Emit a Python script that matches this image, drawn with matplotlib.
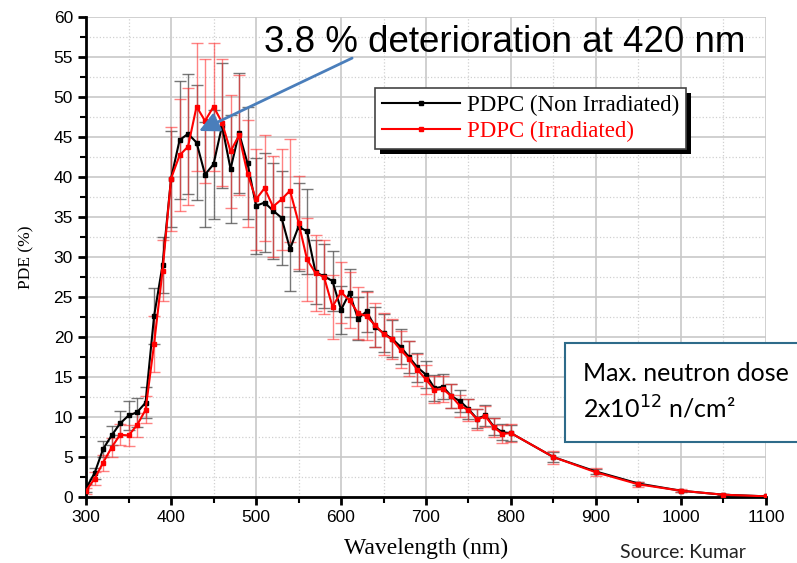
import numpy as np
import matplotlib
matplotlib.use("Agg")
import matplotlib.pyplot as plt
from matplotlib.ticker import MultipleLocator
from matplotlib.patches import Rectangle
from matplotlib.transforms import IdentityTransform

# wavelength (nm)
wavelength = [300, 310, 320, 330, 340, 350, 360, 370, 380, 390,
              400, 410, 420, 430, 440, 450, 460, 470, 480, 490,
              500, 510, 520, 530, 540, 550, 560, 570, 580, 590,
              600, 610, 620, 630, 640, 650, 660, 670, 680, 690,
              700, 710, 720, 730, 740, 750, 760, 770, 780, 790,
              800, 850, 900, 950, 1000, 1050, 1100]

# PDE (%) non irradiated
pde_non = [1.1, 3.0, 6.0, 7.7, 9.2, 10.2, 10.6, 11.8, 22.6, 29.0,
           39.8, 44.6, 45.4, 44.3, 40.3, 41.6, 46.4, 41.0, 45.5, 41.7,
           36.4, 36.8, 35.8, 34.9, 31.0, 33.8, 33.2, 28.1, 27.6, 27.0,
           23.4, 25.5, 22.3, 23.2, 21.3, 20.5, 19.8, 18.8, 17.5, 16.2,
           15.3, 13.6, 13.8, 12.6, 12.0, 11.0, 9.8, 10.2, 8.8, 8.1,
           8.0, 5.0, 3.2, 1.7, 0.8, 0.3, 0.1]
err_non = [0.5, 0.7, 1.0, 1.2, 1.5, 1.8, 1.8, 1.9, 3.5, 3.5,
           6.0, 7.4, 7.5, 7.2, 6.6, 6.8, 7.8, 6.7, 7.5, 7.0,
           6.0, 6.2, 6.0, 5.9, 5.3, 5.5, 5.3, 4.0, 4.0, 3.8,
           3.0, 3.0, 2.7, 2.6, 2.5, 2.4, 2.3, 2.2, 2.0, 1.8,
           1.7, 1.6, 1.6, 1.5, 1.4, 1.3, 1.2, 1.3, 1.1, 1.0,
           1.0, 0.6, 0.3, 0.2, 0.1, 0.05, 0.05]

# PDE (%) irradiated
pde_irr = [0.8, 2.3, 4.3, 6.2, 7.8, 7.7, 9.0, 10.9, 19.1, 28.3,
           39.8, 42.7, 43.8, 48.8, 47.0, 48.8, 46.8, 43.2, 45.2, 40.4,
           37.2, 38.6, 36.3, 37.2, 38.3, 34.3, 29.7, 28.0, 27.5, 23.8,
           25.6, 24.6, 23.0, 22.6, 21.5, 20.4, 19.7, 18.4, 17.3, 15.9,
           14.7, 13.4, 13.5, 12.6, 11.4, 10.9, 9.7, 10.1, 8.7, 7.9,
           8.0, 5.0, 3.1, 1.6, 0.8, 0.3, 0.1]
err_irr = [0.4, 0.8, 1.0, 1.2, 1.3, 1.3, 1.5, 1.7, 3.5, 3.8,
           6.5, 7.0, 7.3, 8.0, 7.8, 8.0, 7.9, 7.1, 7.5, 6.7,
           6.3, 6.6, 6.3, 6.3, 6.4, 5.8, 5.2, 4.8, 4.6, 4.0,
           3.8, 3.5, 3.2, 3.0, 2.8, 2.6, 2.5, 2.3, 2.2, 2.0,
           1.8, 1.7, 1.6, 1.5, 1.4, 1.4, 1.3, 1.3, 1.2, 1.1,
           1.1, 0.8, 0.5, 0.3, 0.2, 0.1, 0.05]

fig = plt.figure(figsize=(7.97, 5.63), dpi=100)
ax = fig.add_axes([0.108, 0.117, 0.853, 0.853])

# error bars first, then the lines
ax.errorbar(wavelength, pde_non, yerr=err_non, fmt='none', ecolor='#555555',
            elinewidth=1, capsize=4, capthick=1, alpha=0.8, zorder=2)
ax.errorbar(wavelength, pde_irr, yerr=err_irr, fmt='none', ecolor='#ff3030',
            elinewidth=1, capsize=4, capthick=1, alpha=0.6, zorder=2)
l1, = ax.plot(wavelength, pde_non, color='black', lw=1.5, marker='s', ms=3,
              label='PDPC (Non Irradiated)', zorder=3)
l2, = ax.plot(wavelength, pde_irr, color='red', lw=1.5, marker='s', ms=3,
              label='PDPC (Irradiated)', zorder=4)

ax.set_xlim(300, 1100)
ax.set_ylim(0, 60)
ax.xaxis.set_major_locator(MultipleLocator(100))
ax.xaxis.set_minor_locator(MultipleLocator(50))
ax.yaxis.set_major_locator(MultipleLocator(5))
ax.yaxis.set_minor_locator(MultipleLocator(2.5))
ax.grid(which='major', color='#c8c8c8', lw=1.2)
ax.grid(which='minor', color='#d0d0d0', lw=0.9, ls=':')
ax.set_axisbelow(True)

for s in ['top', 'right']:
    ax.spines[s].set_visible(False)
for s in ['left', 'bottom']:
    ax.spines[s].set_linewidth(2)
ax.tick_params(which='major', direction='out', length=6, width=2, labelsize=12.5)
ax.tick_params(which='minor', direction='out', length=4, width=1.5)
for lab in ax.get_xticklabels() + ax.get_yticklabels():
    lab.set_fontfamily('Liberation Sans')

ax.set_xlabel('Wavelength (nm)', family='Liberation Serif', fontsize=17, labelpad=9)
ax.set_ylabel('PDE (%)', family='Liberation Serif', fontsize=12.5, labelpad=14)

leg = ax.legend(handles=[l1, l2], loc='upper left', bbox_to_anchor=(0.425, 0.852),
                borderaxespad=0, fancybox=False, edgecolor='#444444', framealpha=1,
                prop={'family': 'Liberation Serif', 'size': 16.5}, labelcolor='linecolor',
                handlelength=3.4, handletextpad=0.3, borderpad=0.3, labelspacing=0.2)
leg.set_zorder(20)
leg.get_frame().set_linewidth(1.2)

# shadow behind the legend
fig.canvas.draw()
bb = leg.get_window_extent()
shadow = Rectangle((bb.x0 + 5, bb.y0 - 5), bb.width, bb.height,
                   transform=IdentityTransform(), facecolor='black', zorder=19)
ax.add_artist(shadow)

ax.annotate('', xy=(430, 45.6), xytext=(616, 55.0),
            arrowprops=dict(arrowstyle='-|>', color='#4a7ebb', lw=2,
                            mutation_scale=30), zorder=15)
fig.text(0.331, 0.924, '3.8 % deterioration at 420 nm', family='Liberation Sans',
         fontsize=26.5, va='center', ha='left', zorder=16)

fig.patches.append(Rectangle((0.709, 0.215), 0.3, 0.176, transform=fig.transFigure,
                             facecolor='white', edgecolor='#2e6b8a', lw=1.5, zorder=5))
fig.text(0.731, 0.337, 'Max. neutron dose', family='Lato', fontsize=18,
         va='center', ha='left', zorder=6)
fig.text(0.731, 0.275, '2x10$^{12}$ n/cm²', family='Lato', fontsize=18,
         va='center', ha='left', zorder=6)
fig.text(0.778, 0.004, 'Source: Kumar', family='Lato', fontsize=14,
         va='bottom', ha='left', color='#222222')

fig.savefig('out.png', dpi=100)
